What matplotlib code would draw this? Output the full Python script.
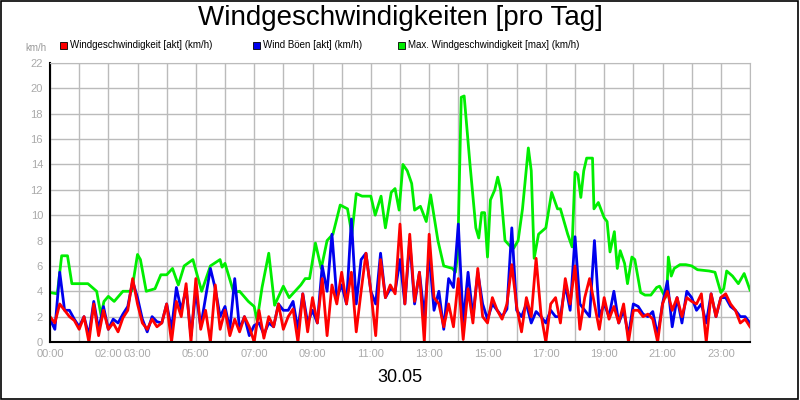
import numpy as np
import matplotlib
matplotlib.use("Agg")
import matplotlib.pyplot as plt
from matplotlib.patches import Rectangle

plt.rcParams["font.family"] = "Liberation Sans"

hours_lbl = [0, 2, 3, 5, 7, 9, 11, 13, 15, 17, 19, 21, 23]
tick_labels = ["%02d:00" % h for h in hours_lbl]
yticks = list(range(0, 23, 2))

red = [2.0,1.5,3.0,2.5,2.0,1.7, 1.0,2.0,0.0,3.0,0.5,2.5, 1.0,1.5,0.8,1.9,2.5,5.0,
       3.0,1.5,1.0,1.8,1.2,1.5, 3.0,0.0,3.2,2.0,4.6,0.0, 5.0,1.0,2.5,0.0,4.5,1.0,
       2.5,0.5,1.8,0.8,2.0,1.2, 0.0,2.5,0.3,2.0,1.2,3.0, 1.0,2.0,2.6,0.0,3.8,0.8,
       3.5,1.5,5.0,0.5,4.5,3.0, 5.5,3.0,5.5,0.8,4.0,7.0, 4.0,0.5,6.5,3.5,4.5,3.8,
       9.3,3.0,8.5,3.2,5.5,0.0, 8.5,3.5,3.0,1.2,3.0,1.2, 5.0,0.2,4.2,1.5,5.8,2.0,
       1.5,3.5,2.5,1.8,3.0,6.1, 2.8,0.8,3.5,2.0,6.6,2.2, 0.0,3.0,3.5,1.5,5.0,3.0,
       6.0,1.0,3.5,5.0,3.0,1.0, 3.5,1.8,2.8,1.5,3.0,0.0, 2.5,2.5,2.0,2.2,1.8,0.0,
       3.0,4.0,2.5,3.5,2.0,3.5, 3.2,3.0,3.8,0.0,3.8,2.0, 3.5,3.8,3.0,2.5,1.5,1.8,1.2]
blue = [1.8,1.0,5.5,2.5,2.5,1.8, 1.2,2.0,0.5,3.2,1.0,2.8, 1.0,1.8,1.5,2.2,2.8,4.8,
        3.5,1.8,0.8,2.0,1.6,1.5, 3.0,1.0,4.3,2.5,4.2,0.5, 4.0,1.2,3.5,5.8,4.2,2.0,
        2.8,1.0,5.0,1.0,2.0,0.5, 1.3,1.5,0.6,1.5,1.2,3.0, 2.5,2.5,3.2,1.0,3.8,1.5,
        2.5,1.5,6.0,4.0,8.5,3.5, 4.5,3.0,9.7,3.0,6.5,7.0, 4.0,3.0,7.0,3.5,4.2,4.0,
        6.5,3.0,8.0,3.0,5.5,2.0, 7.0,2.5,4.0,1.0,5.0,4.3, 9.3,1.5,5.5,2.0,5.5,3.0,
        1.8,3.0,2.5,2.0,2.6,9.0, 2.5,2.0,3.0,1.5,2.4,2.0, 1.5,2.5,2.0,2.0,4.5,2.5,
        8.3,3.0,2.5,2.0,8.0,2.0, 3.0,2.0,4.0,1.5,2.5,0.5, 3.0,2.8,2.2,2.0,2.4,0.5,
        3.0,4.8,1.2,3.5,1.5,4.0, 3.5,2.5,3.0,1.5,3.8,2.0, 3.5,3.5,2.8,2.5,2.0,2.0,1.5]
t10 = np.arange(len(red)) / 6.0

green_t = [0,0.25,0.4,0.6,0.75,1.0,1.3,1.6,1.75,1.85,2.0,2.2,2.5,2.8,3.0,3.1,3.3,3.6,3.8,4.0,4.2,4.4,4.6,4.9,5.2,5.5,
           5.83,5.9,6.0,6.3,6.5,6.8,7.0,7.1,7.27,7.5,7.7,8.0,8.2,8.4,8.6,8.75,8.9,9.1,9.3,9.5,9.7,9.95,10.2,10.35,10.5,
           10.7,11.0,11.15,11.35,11.5,11.7,11.83,11.97,12.1,12.25,12.4,12.5,12.7,12.9,13.05,13.3,13.5,13.8,13.9,13.98,
           14.1,14.2,14.4,14.6,14.7,14.8,14.9,15.0,15.1,15.25,15.35,15.45,15.6,15.8,15.9,16.05,16.2,16.4,16.5,16.6,16.75,
           17.0,17.2,17.4,17.5,17.75,17.9,18.0,18.1,18.2,18.3,18.4,18.6,18.65,18.8,19.0,19.1,19.2,19.35,19.45,19.55,19.7,
           19.8,19.95,20.05,20.25,20.4,20.6,20.8,20.9,21.1,21.15,21.2,21.3,21.4,21.6,21.8,22.0,22.2,22.6,22.8,23.0,23.1,
           23.2,23.4,23.6,23.8,24.0]
green = [3.9,3.8,6.8,6.8,4.6,4.6,4.6,4.0,2.1,3.2,3.6,3.2,4.0,4.0,6.9,6.5,4.0,4.2,5.3,5.3,5.8,4.5,6.0,6.5,4.0,6.0,
         6.5,5.9,6.2,3.9,4.0,3.2,2.8,1.7,4.3,7.0,2.9,4.4,3.5,4.0,4.5,5.0,5.0,7.8,5.8,8.0,8.5,10.8,10.5,8.5,11.7,
         11.5,11.5,10.0,11.5,9.0,11.8,12.1,10.4,14.0,13.5,12.5,10.4,10.7,9.5,11.6,8.0,6.0,5.8,5.5,7.0,
         19.3,19.4,14.0,9.0,8.2,10.2,10.2,6.7,11.2,12.0,13.0,12.0,8.0,7.5,7.4,8.0,10.5,15.3,13.5,6.6,8.5,
         9.0,11.8,10.5,10.5,8.5,7.5,13.4,13.2,11.4,13.5,14.5,14.5,10.5,11.0,9.8,9.5,7.1,8.7,5.8,7.2,6.2,
         4.6,6.7,6.5,3.9,3.7,3.7,4.3,4.4,3.5,3.9,6.7,5.2,5.8,6.1,6.1,6.0,5.7,5.6,5.5,3.9,4.2,
         5.6,5.2,4.6,5.4,4.1]

fig = plt.figure(figsize=(8, 4), dpi=100)
ax = fig.add_axes([50/800, 58/400, 700/800, 279/400])
ax.plot(green_t, green, color="#00ee00", lw=2)
ax.plot(t10, blue, color="#0000ee", lw=2)
ax.plot(t10, red, color="#ff0000", lw=2)
ax.set_xlim(0, 24)
ax.set_ylim(0, 22)
ax.set_xticks(range(25), minor=False)
ax.set_xticklabels(["%02d:00" % h if h in hours_lbl else "" for h in range(25)])
ax.set_yticks(yticks)
ax.grid(True, color="#bbbbbb", lw=1)
ax.set_axisbelow(True)
ax.tick_params(colors="#aaaaaa", labelsize=8, length=0, pad=5)
for s in ["top", "right"]:
    ax.spines[s].set_color("#bbbbbb")
for s in ["left", "bottom"]:
    ax.spines[s].set_color("black")
    ax.spines[s].set_linewidth(1.5)

fig.text(0.5, 0.955, "Windgeschwindigkeiten [pro Tag]", ha="center", va="center", fontsize=20)
fig.text(25/800, 1 - 48/400, "km/h", fontsize=7, color="#999999", va="center")
fig.text(0.5, 1 - 378/400, "30.05", ha="center", va="center", fontsize=13)
legend = [("Windgeschwindigkeit [akt] (km/h)", "#ff0000", 60),
          ("Wind Böen [akt] (km/h)", "#0000ee", 253),
          ("Max. Windgeschwindigkeit [max] (km/h)", "#00ee00", 398)]
for txt, col, x in legend:
    fig.patches.append(Rectangle((x/800, 1 - 49/400), 7/800, 7/400, transform=fig.transFigure,
                                 facecolor=col, edgecolor="black", lw=0.6))
    fig.text((x + 10)/800, 1 - 45/400, txt, fontsize=7, va="center")
fig.patches.append(Rectangle((0.001, 0.002), 0.997, 0.996, transform=fig.transFigure,
                             fill=False, edgecolor="black", lw=1.2))
fig.savefig("out.png", dpi=100)
